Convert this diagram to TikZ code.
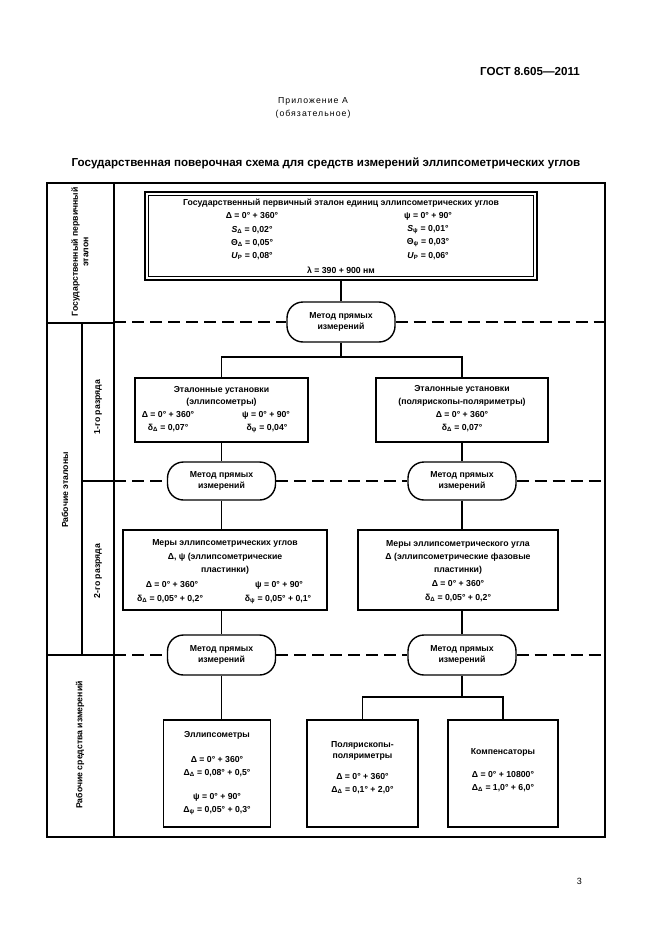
\documentclass[tikz,border=0pt]{standalone}
\usepackage{fontspec}
\setmainfont{Liberation Sans}
\begin{document}
\begin{tikzpicture}[x=1pt,y=-1pt]
\tikzset{
 frame/.style={line width=1.3pt},
 conn/.style={line width=1.6pt},
 dashln/.style={line width=1.2pt, dash pattern=on 12pt off 6pt},
 boxst/.style={draw, line width=1.6pt, inner sep=0pt},
 ovalst/.style={draw, line width=1.4pt, rounded corners=16pt, inner sep=0pt, minimum width=108pt, minimum height=40pt, align=center, font=\fontsize{8.7}{10.5}\selectfont\bfseries},
 t/.style={font=\fontsize{8.7}{10.5}\selectfont\bfseries, inner sep=0pt, anchor=center},
 lbl/.style={t, rotate=90, align=center},
 hdr/.style={font=\fontsize{11.6}{13}\selectfont\bfseries, inner sep=0pt}
}
\useasboundingbox (0,0) rectangle (661,936);
\fill[white] (0,0) rectangle (661,936);

% header
\node[hdr, anchor=east] (gost) at (580,72) {ГОСТ 8.605—2011};
\node[inner sep=0pt, font=\fontsize{8.7}{10}\selectfont\addfontfeature{LetterSpace=12}] (pril) at (313,101) {Приложение А};
\node[inner sep=0pt, font=\fontsize{8.7}{10}\selectfont\addfontfeature{LetterSpace=12}] (obyaz) at (313,114) {(обязательное)};
\node[hdr] (title) at (326,163) {Государственная поверочная схема для средств измерений эллипсометрических углов};
\node[inner sep=0pt, font=\fontsize{9}{10}\selectfont, anchor=east] (pg) at (582,881) {3};

% frame
\draw[frame] (47,183) rectangle (605,837);
\draw[frame] (114,183) -- (114,837);
\draw[frame] (82,323) -- (82,655);
\draw[frame] (47,323) -- (114,323);
\draw[frame] (82,481) -- (114,481);
\draw[frame] (47,655) -- (114,655);

% left labels
\node[lbl] (l0) at (80,252) {Государственный первичный\\эталон};
\node[lbl] (l1) at (65,490) {Рабочие эталоны};
\node[lbl] (l2) at (98,407) {1-го разряда};
\node[lbl] (l3) at (98,571) {2-го разряда};
\node[lbl] (l4) at (80,745) {Рабочие средства измерений};

% top box
\node[boxst, minimum width=392pt, minimum height=88pt] (top) at (341,236) {};
\node[draw, line width=0.7pt, inner sep=0pt, minimum width=385pt, minimum height=81pt] (topin) at (341,236) {};
\node[t] (tt1) at (341,203) {Государственный первичный эталон единиц эллипсометрических углов};
\node[t] (tt2a) at (252,216) {Δ = 0° + 360°};
\node[t] (tt2b) at (428,216) {ψ = 0° + 90°};
\node[t] (tt3a) at (252,230) {\textit{S}\textsubscript{Δ} = 0,02°};
\node[t] (tt3b) at (428,230) {\textit{S}\textsubscript{ψ} = 0,01°};
\node[t] (tt4a) at (252,243) {Θ\textsubscript{Δ} = 0,05°};
\node[t] (tt4b) at (428,243) {Θ\textsubscript{ψ} = 0,03°};
\node[t] (tt5a) at (252,256) {\textit{U}\textsubscript{P} = 0,08°};
\node[t] (tt5b) at (428,256) {\textit{U}\textsubscript{P} = 0,06°};
\node[t] (tt6) at (341,270) {λ = 390 + 900 нм};

% oval 1
\node[ovalst] (ov1) at (341,322) {Метод прямых\\измерений};
\coordinate (br1) at (341,357);

% rank 1 boxes
\node[boxst, minimum width=173pt, minimum height=64pt] (b1l) at (221.5,410) {};
\node[boxst, minimum width=172pt, minimum height=64pt] (b1r) at (462,410) {};
\node[t] (a1) at (221.5,390) {Эталонные установки};
\node[t] (a2) at (221.5,402) {(эллипсометры)};
\node[t] (a3) at (168,415) {Δ = 0° + 360°};
\node[t] (a4) at (266,415) {ψ = 0° + 90°};
\node[t] (a5) at (168,428) {δ\textsubscript{Δ} = 0,07°};
\node[t] (a6) at (267,428) {δ\textsubscript{ψ} = 0,04°};
\node[t] (c1) at (462,389) {Эталонные установки};
\node[t] (c2) at (462,402) {(полярископы-поляриметры)};
\node[t] (c3) at (462,415) {Δ = 0° + 360°};
\node[t] (c4) at (462,428) {δ\textsubscript{Δ} = 0,07°};

% ovals row 2
\node[ovalst, minimum height=38pt] (ov2l) at (221.5,481) {Метод прямых\\измерений};
\node[ovalst, minimum height=38pt] (ov2r) at (462,481) {Метод прямых\\измерений};

% rank 2 boxes
\node[boxst, minimum width=204pt, minimum height=80pt] (b2l) at (225,570) {};
\node[boxst, minimum width=200pt, minimum height=80pt] (b2r) at (458,570) {};
\node[t] (d1) at (225,543) {Меры эллипсометрических углов};
\node[t] (d2) at (225,557) {Δ, ψ (эллипсометрические};
\node[t] (d3) at (225,570) {пластинки)};
\node[t] (d4) at (172,585) {Δ = 0° + 360°};
\node[t] (d5) at (279,585) {ψ = 0° + 90°};
\node[t] (d6) at (170,599) {δ\textsubscript{Δ} = 0,05° + 0,2°};
\node[t] (d7) at (278,599) {δ\textsubscript{ψ} = 0,05° + 0,1°};
\node[t] (e1) at (458,544) {Меры эллипсометрического угла};
\node[t] (e2) at (458,557) {Δ (эллипсометрические фазовые};
\node[t] (e3) at (458,570) {пластинки)};
\node[t] (e4) at (458,584) {Δ = 0° + 360°};
\node[t] (e5) at (458,598) {δ\textsubscript{Δ} = 0,05° + 0,2°};

% ovals row 3
\node[ovalst] (ov3l) at (221.5,655) {Метод прямых\\измерений};
\node[ovalst] (ov3r) at (462,655) {Метод прямых\\измерений};
\coordinate (br2) at (462,697);

% bottom boxes
\node[boxst, minimum width=107pt, minimum height=107pt] (bel) at (217,773.5) {};
\node[boxst, minimum width=111pt, minimum height=107pt] (bpo) at (362.5,773.5) {};
\node[boxst, minimum width=110pt, minimum height=107pt] (bco) at (503,773.5) {};
\node[t] (f1) at (217,735) {Эллипсометры};
\node[t] (f2) at (217,760) {Δ = 0° + 360°};
\node[t] (f3) at (217,773) {Δ\textsubscript{Δ} = 0,08° + 0,5°};
\node[t] (f4) at (217,797) {ψ = 0° + 90°};
\node[t] (f5) at (217,811) {Δ\textsubscript{ψ} = 0,05° + 0,3°};
\node[t] (g1) at (362.5,745) {Полярископы-};
\node[t] (g2) at (362.5,757) {поляриметры};
\node[t] (g3) at (362.5,777) {Δ = 0° + 360°};
\node[t] (g4) at (362.5,790) {Δ\textsubscript{Δ} = 0,1° + 2,0°};
\node[t] (h1) at (503,752) {Компенсаторы};
\node[t] (h2) at (503,774) {Δ = 0° + 10800°};
\node[t] (h3) at (503,788) {Δ\textsubscript{Δ} = 1,0° + 6,0°};

% connectors
\draw[conn] (top.south) -- (ov1.north);
\draw[conn] (ov1.south) -- (br1);
\draw[conn] (b1l.north) |- (br1) -| (b1r.north);
\draw[conn] (b1l.south) -- (ov2l.north);
\draw[conn] (b1r.south) -- (ov2r.north);
\draw[conn] (ov2l.south) -- (ov2l.south |- b2l.north);
\draw[conn] (ov2r.south) -- (ov2r.south |- b2r.north);
\draw[conn] (ov3l.north |- b2l.south) -- (ov3l.north);
\draw[conn] (ov3r.north |- b2r.south) -- (ov3r.north);
\draw[conn] (ov3l.south) -- (ov3l.south |- bel.north);
\draw[conn] (ov3r.south) -- (br2);
\draw[conn] (bpo.north) |- (br2) -| (bco.north);

% dashed boundaries
\draw[dashln] (114,322) -- (ov1.west);
\draw[dashln] (ov1.east) -- (605,322);
\draw[dashln] (114,481) -- (ov2l.west);
\draw[dashln] (ov2l.east) -- (ov2r.west);
\draw[dashln] (ov2r.east) -- (605,481);
\draw[dashln] (114,655) -- (ov3l.west);
\draw[dashln] (ov3l.east) -- (ov3r.west);
\draw[dashln] (ov3r.east) -- (605,655);
\end{tikzpicture}
\end{document}
